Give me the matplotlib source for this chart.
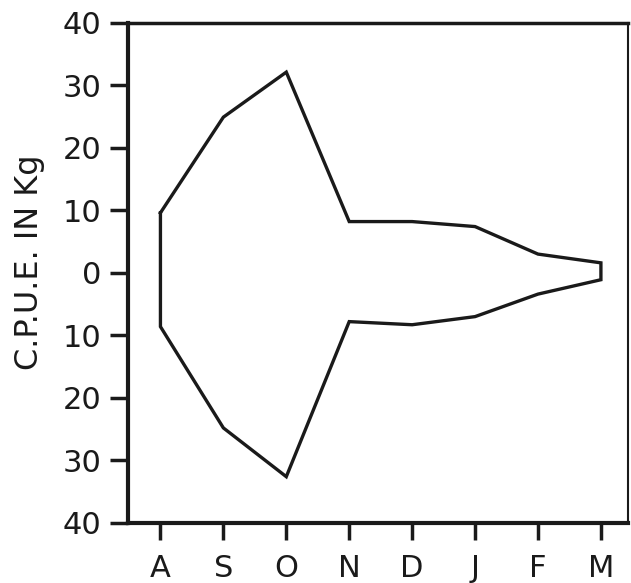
import matplotlib
matplotlib.use('Agg')
import matplotlib.pyplot as plt
import numpy as np

# kite diagram data (C.P.U.E. in kg, upper and lower half)
months = ['A', 'S', 'O', 'N', 'D', 'J', 'F', 'M']
upper = [9.6, 24.9, 32.1, 8.2, 8.2, 7.4, 3.0, 1.6]
lower = [8.6, 24.8, 32.6, 7.8, 8.3, 7.0, 3.4, 1.1]
y_ticks = [40, 30, 20, 10, 0, -10, -20, -30, -40]
y_labels = ['40', '30', '20', '10', '0', '10', '20', '30', '40']

plt.rcParams['font.family'] = 'DejaVu Sans'

fig = plt.figure(figsize=(6.31, 5.83), dpi=100)
ax = fig.add_axes([0.2024, 0.103, 0.7928, 0.858])

x = np.arange(len(months))
xs = np.concatenate([x, x[::-1], x[:1]])
ys = np.concatenate([upper, -np.array(lower)[::-1], upper[:1]])
ax.plot(xs, ys, color='#1a1a1a', lw=2.4, solid_joinstyle='miter')

ax.set_xlim(-0.52, 7.43)
ax.set_ylim(-40, 40)
ax.set_xticks(x)
ax.set_xticklabels(months)
ax.set_yticks(y_ticks)
ax.set_yticklabels(y_labels)

for s in ax.spines.values():
    s.set_color('#1a1a1a')
ax.spines['left'].set_linewidth(3)
ax.spines['bottom'].set_linewidth(3)
ax.spines['top'].set_linewidth(2.5)
ax.spines['right'].set_linewidth(1.5)

ax.tick_params(axis='y', length=13, width=2.5, pad=6, labelsize=22, colors='#1a1a1a')
ax.tick_params(axis='x', length=12, width=2.5, pad=10, labelsize=22, colors='#1a1a1a')

fig.text(30 / 631, 1 - 262 / 583, 'C.P.U.E. IN Kg', rotation=90,
         ha='center', va='center', fontsize=23, color='#1a1a1a')

fig.savefig('out.png', dpi=100)
plt.close(fig)
